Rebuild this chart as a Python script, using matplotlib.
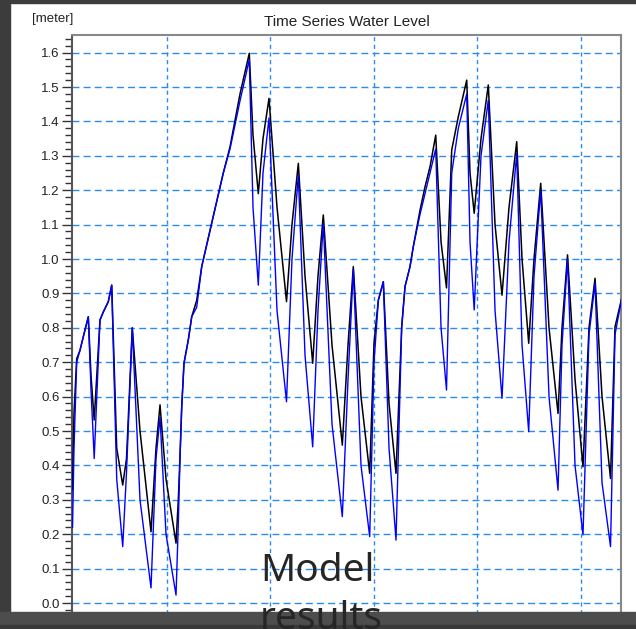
import numpy as np
import matplotlib
matplotlib.use("Agg")
import matplotlib.pyplot as plt
from matplotlib.patches import Rectangle
from matplotlib.ticker import MultipleLocator

# time in hours from the left edge of the plot, water level in meters
time_h = [0.12, 0.46, 1.09, 1.86, 2.62, 3.78, 4.41, 5.15, 6.49, 7.26,
          8.42, 9.21, 10.37, 11.76, 12.64, 13.98, 15.77, 18.32, 19.48, 20.41,
          21.80, 24.12, 24.65, 25.04, 25.44, 25.97, 26.97, 27.76, 28.92, 30.08,
          32.39, 35.08, 36.64, 38.96, 41.11, 41.97, 43.20, 44.29, 45.68, 47.54,
          49.74, 51.01, 52.48, 54.03, 55.81, 57.04, 58.27, 60.29, 62.68, 64.00,
          65.23, 67.01, 69.03, 70.03, 71.03, 72.19, 73.51, 75.13, 76.45, 77.22,
          78.38, 79.14, 80.70, 81.86, 83.01, 84.34, 85.57, 86.84, 88.05, 89.58,
          91.53, 92.29, 93.26, 94.84, 96.53, 98.09, 99.71, 101.33, 103.12, 104.35,
          105.90, 107.13, 108.68, 110.61, 112.70, 113.62, 114.90, 116.64, 118.49, 119.88,
          121.28, 122.90, 124.87, 125.91, 127.47]

observed = [0.33, 0.55, 0.71, 0.735, 0.774, 0.832, 0.66, 0.532, 0.823, 0.846,
            0.876, 0.924, 0.45, 0.343, 0.42, 0.80, 0.50, 0.207, 0.45, 0.576,
            0.36, 0.174, 0.30, 0.425, 0.57, 0.697, 0.765, 0.832, 0.88, 0.978,
            1.104, 1.25, 1.326, 1.48, 1.598, 1.36, 1.19, 1.35, 1.467, 1.15,
            0.876, 1.10, 1.278, 0.95, 0.697, 0.95, 1.128, 0.75, 0.459, 0.75,
            0.978, 0.60, 0.377, 0.756, 0.88, 0.934, 0.58, 0.377, 0.803, 0.92,
            0.978, 1.036, 1.142, 1.21, 1.268, 1.36, 1.05, 0.916, 1.317, 1.414,
            1.52, 1.25, 1.133, 1.35, 1.506, 1.10, 0.895, 1.15, 1.341, 1.00,
            0.755, 1.00, 1.22, 0.80, 0.551, 0.80, 1.012, 0.65, 0.396, 0.80,
            0.944, 0.60, 0.362, 0.803, 0.886]

model = [0.22, 0.45, 0.70, 0.735, 0.774, 0.832, 0.62, 0.42, 0.823, 0.846,
         0.876, 0.924, 0.36, 0.164, 0.38, 0.80, 0.30, 0.044, 0.42, 0.54,
         0.20, 0.023, 0.23, 0.42, 0.57, 0.697, 0.765, 0.832, 0.86, 0.978,
         1.104, 1.25, 1.32, 1.46, 1.58, 1.15, 0.924, 1.25, 1.41, 0.85,
         0.585, 1.00, 1.245, 0.72, 0.454, 0.85, 1.104, 0.52, 0.251, 0.65,
         0.97, 0.40, 0.193, 0.70, 0.88, 0.934, 0.45, 0.183, 0.803, 0.92,
         0.978, 1.036, 1.13, 1.19, 1.25, 1.32, 0.80, 0.619, 1.25, 1.38,
         1.48, 1.05, 0.852, 1.30, 1.462, 0.85, 0.595, 1.05, 1.307, 0.75,
         0.498, 0.95, 1.20, 0.60, 0.328, 0.75, 1.00, 0.40, 0.198, 0.78,
         0.93, 0.35, 0.164, 0.78, 0.886]

grid_times = [22, 46, 70, 94, 118]

W, H = 636, 629
fig = plt.figure(figsize=(W / 100, H / 100), dpi=100, facecolor="white")
ax = fig.add_axes([72 / W, 0.0, (621 - 72) / W, (629 - 35) / H])

ax.plot(time_h, observed, color="black", lw=1.1, zorder=3)
ax.plot(time_h, model, color="#0000ff", lw=1.0, zorder=4)

ax.set_xlim(0, 127.3)
ax.set_ylim((603 - 629) / 344, (603 - 35) / 344)

ax.yaxis.set_minor_locator(MultipleLocator(0.02))
ax.set_yticks(np.arange(0, 1.61, 0.1))
ax.set_yticklabels([f"{v:.1f}" for v in np.arange(0, 1.61, 0.1)],
                   family="Liberation Sans")
ax.set_xticks(grid_times)
ax.tick_params(axis="x", length=0, labelbottom=False)
ax.tick_params(axis="y", which="major", direction="out", length=7, width=1,
               color="#333333", labelsize=9.5, pad=2, labelcolor="#222222")
ax.tick_params(axis="y", which="minor", direction="out", length=5, width=1,
               color="#333333")

ax.grid(axis="y", which="major", color="#2b8cf0", lw=1, linestyle=(0, (5, 3)))
ax.grid(axis="x", which="major", color="#2b8cf0", lw=1, linestyle=(0, (3, 2.5)))

ax.spines["left"].set_color("#555555")
ax.spines["left"].set_linewidth(1.5)
ax.spines["top"].set_color("#888888")
ax.spines["right"].set_color("#888888")
ax.spines["top"].set_linewidth(1.5)
ax.spines["right"].set_linewidth(1.5)
ax.spines["bottom"].set_visible(False)

fig.text(347 / W, 1 - 22 / H, "Time Series Water Level", ha="center", va="center",
         fontsize=11, family="Liberation Sans", color="#222222")
fig.text(32 / W, 1 - 19 / H, "[meter]", ha="left", va="center",
         fontsize=9.5, family="Liberation Sans", color="#222222")

# dark frame around the screenshot
fig.add_artist(Rectangle((0, 0), 10 / W, 1, transform=fig.transFigure,
                         color="#3c3c3c", zorder=5))
fig.add_artist(Rectangle((0, 1 - 3 / H), 1, 3 / H, transform=fig.transFigure,
                         color="#3c3c3c", zorder=5))
fig.add_artist(Rectangle((0, 0), 1, (629 - 612) / H, transform=fig.transFigure,
                         color="#4d4d4d", zorder=5))
fig.add_artist(Rectangle((0, 0), 1, (629 - 625) / H, transform=fig.transFigure,
                         color="#393939", zorder=5))

fig.text(260 / W, 1 - 581 / H, "Model", ha="left", va="baseline",
         fontsize=28, family="Noto Sans", color="#262626", zorder=6)
fig.text(260 / W, 1 - 629 / H, "results", ha="left", va="baseline",
         fontsize=28, family="Noto Sans", color="#262626", zorder=6)

fig.savefig("out.png", dpi=100)
